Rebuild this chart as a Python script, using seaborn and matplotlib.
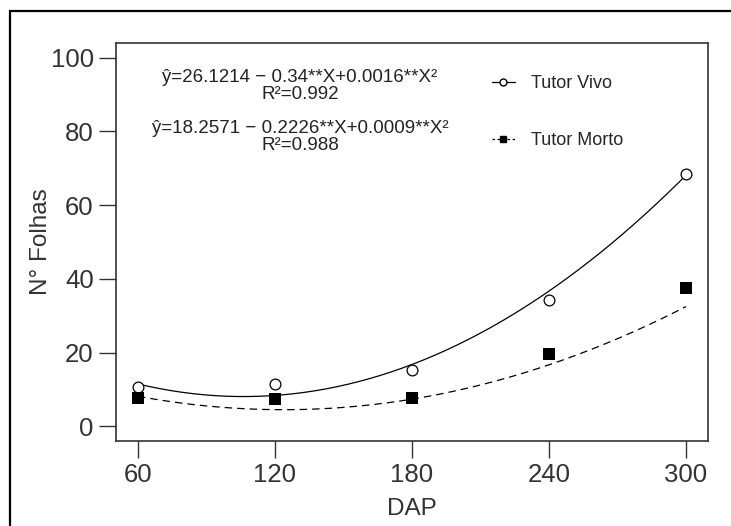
import numpy as np
import pandas as pd
import matplotlib
matplotlib.use("Agg")
import matplotlib.pyplot as plt
import seaborn as sns
from matplotlib.lines import Line2D
from matplotlib.patches import Rectangle

# observed values
dap = [60, 120, 180, 240, 300]
folhas_vivo = [10.7, 11.6, 15.2, 34.2, 68.4]
folhas_morto = [7.8, 7.5, 7.8, 19.6, 37.4]

# fitted quadratic coefficients (b0, b1, b2), as printed on the chart
coef_vivo = [26.1214, -0.34, 0.0016]
coef_morto = [18.2571, -0.2226, 0.0009]

sns.set_theme(style="white")
plt.rcParams["font.family"] = ["Liberation Sans", "DejaVu Sans"]

fig = plt.figure(figsize=(7.31, 5.26), dpi=100)
ax = fig.add_axes([0.1587, 0.1616, 0.8098, 0.7567])

# outer frame of the picture
fig.patches.append(Rectangle((10 / 731, -0.2), 1.2, 0.2 + (526 - 11) / 526,
                             transform=fig.transFigure, fill=False,
                             edgecolor="black", linewidth=1.6))

x_fit = np.linspace(60, 300, 200)
fit_df = pd.DataFrame({
    "DAP": x_fit,
    "vivo": np.polyval(coef_vivo[::-1], x_fit),
    "morto": np.polyval(coef_morto[::-1], x_fit),
})
pts_df = pd.DataFrame({"DAP": dap, "vivo": folhas_vivo, "morto": folhas_morto})

sns.lineplot(data=fit_df, x="DAP", y="vivo", ax=ax, color="black", linewidth=0.9)
sns.lineplot(data=fit_df, x="DAP", y="morto", ax=ax, color="black", linewidth=0.9,
             linestyle=(0, (6, 4)))
sns.scatterplot(data=pts_df, x="DAP", y="vivo", ax=ax, marker="o", s=60,
                facecolor="white", edgecolor="black", linewidth=0.9, zorder=3)
sns.scatterplot(data=pts_df, x="DAP", y="morto", ax=ax, marker="s", s=85,
                color="black", edgecolor="black", linewidth=0, zorder=3)

ax.set_xlim(50.4, 309.6)
ax.set_ylim(-4, 104)
ax.set_xticks(dap)
ax.set_yticks([0, 20, 40, 60, 80, 100])
ax.tick_params(axis="both", which="both", direction="out", length=12, width=1,
               color="#333333", labelsize=18.5, labelcolor="#333333", pad=4,
               bottom=True, left=True)
for s in ax.spines.values():
    s.set_color("#333333")
    s.set_linewidth(1.2)

ax.set_xlabel("DAP", fontsize=17.5, color="#333333")
ax.set_ylabel("N° Folhas", fontsize=17.5, color="#333333")
ax.yaxis.set_label_coords(-0.108, 0.5)
ax.xaxis.set_label_coords(0.5, -0.143)

eq_kw = dict(transform=ax.transData, ha="center", va="center", fontsize=13.5, color="#222222")
ax.text(131, 94.5, "ŷ=26.1214 − 0.34**X+0.0016**X²", **eq_kw)
ax.text(131, 89.9, "R²=0.992", **eq_kw)
ax.text(131, 80.8, "ŷ=18.2571 − 0.2226**X+0.0009**X²", **eq_kw)
ax.text(131, 76.2, "R²=0.988", **eq_kw)

handles = [
    Line2D([], [], color="black", linewidth=0.9, marker="o", markersize=5,
           markerfacecolor="white", markeredgecolor="black"),
    Line2D([], [], color="black", linewidth=0.9, linestyle=(0, (2, 2)), marker="s",
           markersize=5, markerfacecolor="black", markeredgecolor="black"),
]
ax.legend(handles, ["Tutor Vivo", "Tutor Morto"], loc="upper left",
          bbox_to_anchor=(0.607, 0.96), frameon=False, fontsize=13,
          handlelength=1.3, handletextpad=0.9, labelspacing=2.2)

fig.savefig("out.png", dpi=100)
